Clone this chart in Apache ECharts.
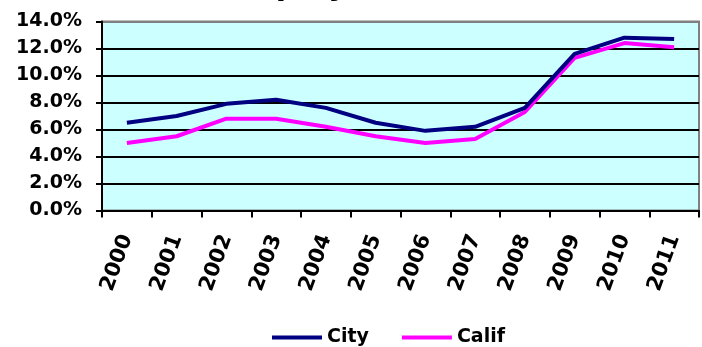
<!DOCTYPE html>
<html>
<head>
<meta charset="utf-8">
<script src="https://cdn.jsdelivr.net/npm/echarts@6/dist/echarts.min.js"></script>
<style>
  html, body { margin: 0; padding: 0; background: #fff; }
  #chart { width: 702px; height: 347px; }
</style>
</head>
<body>
<div id="chart"></div>
<script>
// Annual unemployment rate (%), city vs. state
const years = ['2000', '2001', '2002', '2003', '2004', '2005', '2006', '2007', '2008', '2009', '2010', '2011'];
const cityRate = [6.5, 7.0, 7.9, 8.2, 7.6, 6.5, 5.9, 6.2, 7.6, 11.6, 12.8, 12.7];
const califRate = [5.0, 5.5, 6.8, 6.8, 6.2, 5.5, 5.0, 5.3, 7.3, 11.3, 12.4, 12.1];
const yTicks = [0, 2, 4, 6, 8, 10, 12, 14];

const FONT = 'DejaVu Sans';
const chart = echarts.init(document.getElementById('chart'), null, { renderer: 'canvas' });

chart.setOption({
  animation: false,
  title: {
    text: 'Unemployment Rate',
    left: 'center',
    top: -33,
    textStyle: { fontFamily: FONT, fontWeight: 'bold', fontSize: 30, color: '#000' }
  },
  legend: {
    left: 267,
    top: 323,
    icon: 'rect',
    itemWidth: 50,
    itemHeight: 4,
    itemGap: 33,
    textStyle: { fontFamily: FONT, fontWeight: 'bold', fontSize: 19, color: '#000' },
    data: ['City', 'Calif']
  },
  grid: {
    left: 102,
    right: 3,
    top: 21.5,
    bottom: 136.5,
    show: true,
    backgroundColor: '#CCFFFF',
    borderColor: '#808080',
    borderWidth: 2
  },
  xAxis: {
    type: 'category',
    data: years,
    boundaryGap: true,
    axisLine: { lineStyle: { color: '#000', width: 2 } },
    axisTick: { show: true, length: 7, lineStyle: { color: '#000', width: 2 } },
    axisLabel: {
      rotate: 70,
      margin: 25,
      interval: 0,
      fontFamily: FONT,
      fontWeight: 'bold',
      fontSize: 21,
      color: '#000'
    }
  },
  yAxis: {
    type: 'value',
    min: yTicks[0],
    max: yTicks[yTicks.length - 1],
    interval: 2,
    axisLine: { show: true, lineStyle: { color: '#000', width: 2 } },
    axisTick: { show: true, length: 6, lineStyle: { color: '#000', width: 2 } },
    axisLabel: {
      margin: 20,
      fontFamily: FONT,
      fontWeight: 'bold',
      fontSize: 19,
      color: '#000',
      formatter: v => v.toFixed(1) + '%'
    },
    splitLine: {
      show: true,
      lineStyle: {
        color: yTicks.map((t, i) => (i === yTicks.length - 1 ? '#808080' : '#000')),
        width: 2
      }
    }
  },
  series: [
    {
      name: 'City',
      type: 'line',
      data: cityRate,
      symbol: 'none',
      z: 3,
      lineStyle: { color: '#000080', width: 4 },
      itemStyle: { color: '#000080' }
    },
    {
      name: 'Calif',
      type: 'line',
      data: califRate,
      symbol: 'none',
      z: 2,
      lineStyle: { color: '#FF00FF', width: 4 },
      itemStyle: { color: '#FF00FF' }
    }
  ]
});
</script>
</body>
</html>
